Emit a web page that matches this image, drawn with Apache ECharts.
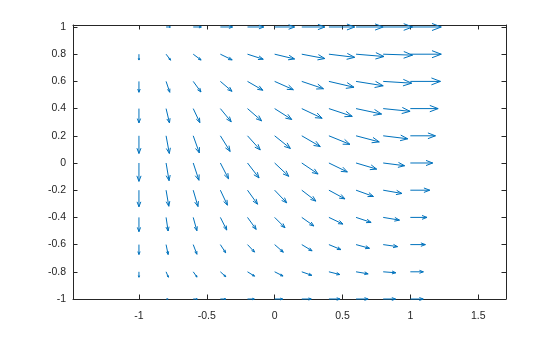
<!DOCTYPE html>
<html>
<head>
<meta charset="utf-8">
<script src="https://cdn.jsdelivr.net/npm/echarts@6/dist/echarts.min.js"></script>
<style>
html,body{margin:0;padding:0;background:#fff;}
#chart{width:560px;height:337px;}
</style>
</head>
<body>
<div id="chart"></div>
<script>
// Grid positions of the arrows
const xs = [-1, -0.8, -0.6, -0.4, -0.2, 0, 0.2, 0.4, 0.6, 0.8, 1];
const ys = [1, 0.8, 0.6, 0.4, 0.2, 0, -0.2, -0.4, -0.6, -0.8, -1];

// Horizontal components (rows follow ys, columns follow xs), as drawn
const U = [
  [0, 0.032, 0.060, 0.090, 0.120, 0.147, 0.170, 0.190, 0.200, 0.216, 0.228],
  [0, 0.033, 0.058, 0.087, 0.116, 0.147, 0.170, 0.190, 0.206, 0.216, 0.228],
  [0, 0.027, 0.057, 0.086, 0.113, 0.138, 0.160, 0.185, 0.200, 0.210, 0.222],
  [0, 0.025, 0.049, 0.080, 0.104, 0.126, 0.150, 0.172, 0.188, 0.198, 0.205],
  [0, 0.024, 0.045, 0.072, 0.094, 0.116, 0.136, 0.155, 0.171, 0.181, 0.185],
  [0, 0.022, 0.042, 0.060, 0.085, 0.104, 0.120, 0.136, 0.152, 0.158, 0.165],
  [0, 0.020, 0.035, 0.052, 0.074, 0.089, 0.104, 0.118, 0.128, 0.138, 0.143],
  [0, 0.015, 0.027, 0.047, 0.064, 0.076, 0.089, 0.103, 0.111, 0.120, 0.123],
  [0, 0.015, 0.027, 0.039, 0.052, 0.064, 0.076, 0.089, 0.099, 0.106, 0.111],
  [0, 0.017, 0.028, 0.040, 0.052, 0.062, 0.074, 0.080, 0.089, 0.093, 0.096],
  [0, 0.015, 0.030, 0.040, 0.050, 0.059, 0.070, 0.082, 0.089, 0.091, 0.095]
];

// Vertical components (rows follow ys, columns follow xs), as drawn
const V = [
  [0, 0, 0, 0, 0, 0, 0, 0, 0, 0, 0],
  [-0.043, -0.044, -0.043, -0.042, -0.037, -0.035, -0.032, -0.023, -0.017, -0.007, 0],
  [-0.080, -0.080, -0.078, -0.073, -0.065, -0.061, -0.054, -0.043, -0.032, -0.013, 0],
  [-0.105, -0.105, -0.103, -0.097, -0.090, -0.080, -0.071, -0.057, -0.040, -0.020, 0],
  [-0.130, -0.130, -0.126, -0.115, -0.104, -0.093, -0.079, -0.063, -0.045, -0.022, 0],
  [-0.135, -0.130, -0.127, -0.116, -0.110, -0.098, -0.081, -0.066, -0.045, -0.020, 0],
  [-0.122, -0.118, -0.120, -0.110, -0.103, -0.093, -0.080, -0.064, -0.046, -0.024, 0],
  [-0.105, -0.100, -0.098, -0.093, -0.088, -0.076, -0.063, -0.049, -0.037, -0.020, 0],
  [-0.073, -0.073, -0.071, -0.060, -0.055, -0.056, -0.046, -0.037, -0.027, -0.015, 0],
  [-0.040, -0.040, -0.039, -0.036, -0.032, -0.031, -0.026, -0.020, -0.015, -0.007, 0],
  [0, 0, 0, 0, 0, 0, 0, 0, 0, 0, 0]
];

// Tick labels
const xTicks = [-1, -0.5, 0, 0.5, 1, 1.5];
const yTicks = [-1, -0.8, -0.6, -0.4, -0.2, 0, 0.2, 0.4, 0.6, 0.8, 1];

const data = [];
ys.forEach((y, i) => xs.forEach((x, j) => data.push([x, y, U[i][j], V[i][j]])));

const AX = '#262626';
const ARROW = '#0072BD';
const FONT = '"Liberation Sans", Arial, Helvetica, sans-serif';

function renderItem(params, api) {
  const x = api.value(0), y = api.value(1), u = api.value(2), v = api.value(3);
  const p0 = api.coord([x, y]);
  const p1 = api.coord([x + u, y + v]);
  const dx = p1[0] - p0[0], dy = p1[1] - p0[1];
  if (Math.hypot(dx, dy) < 0.5) return null;
  const a = 0.3, b = 0.38;
  const h1 = [p1[0] - a * (dx + b * dy), p1[1] - a * (dy - b * dx)];
  const h2 = [p1[0] - a * (dx - b * dy), p1[1] - a * (dy + b * dx)];
  const st = { stroke: ARROW, lineWidth: 1, fill: null };
  return {
    type: 'group',
    children: [
      { type: 'polyline', shape: { points: [p0, p1] }, style: st },
      { type: 'polyline', shape: { points: [h1, p1, h2] }, style: st }
    ]
  };
}

const xMin = -1.486, xMax = 1.705, yMin = -1, yMax = 1.0147;

function axisCommon() {
  return {
    axisLine: { show: true, onZero: false, lineStyle: { color: AX, width: 1 } },
    splitLine: { show: false }
  };
}

const chart = echarts.init(document.getElementById('chart'), null, { renderer: 'canvas' });
chart.setOption({
  animation: false,
  backgroundColor: '#ffffff',
  grid: { left: 73, top: 25, right: 54, bottom: 38, containLabel: false },
  xAxis: [
    Object.assign(axisCommon(), {
      type: 'value', position: 'bottom', min: xMin, max: xMax,
      axisTick: { show: true, inside: true, length: 4.5, customValues: xTicks, lineStyle: { color: AX } },
      axisLabel: { show: true, customValues: xTicks, color: AX, fontSize: 10.5, fontFamily: FONT, margin: 12,
        formatter: v => String(v) }
    }),
    Object.assign(axisCommon(), {
      type: 'value', position: 'top', min: xMin, max: xMax,
      axisTick: { show: true, inside: true, length: 4.5, customValues: xTicks, lineStyle: { color: AX } },
      axisLabel: { show: false }
    })
  ],
  yAxis: [
    Object.assign(axisCommon(), {
      type: 'value', position: 'left', min: yMin, max: yMax,
      axisTick: { show: true, inside: true, length: 4.5, customValues: yTicks, lineStyle: { color: AX } },
      axisLabel: { show: true, customValues: yTicks, color: AX, fontSize: 10.5, fontFamily: FONT, margin: 7,
        formatter: v => String(v), padding: [4, 0, 0, 0] }
    }),
    Object.assign(axisCommon(), {
      type: 'value', position: 'right', min: yMin, max: yMax,
      axisTick: { show: true, inside: true, length: 4.5, customValues: yTicks, lineStyle: { color: AX } },
      axisLabel: { show: false }
    })
  ],
  series: [{
    type: 'custom',
    xAxisIndex: 0,
    yAxisIndex: 0,
    clip: false,
    renderItem: renderItem,
    encode: { x: 0, y: 1 },
    data: data,
    silent: true
  }]
});
</script>
</body>
</html>
